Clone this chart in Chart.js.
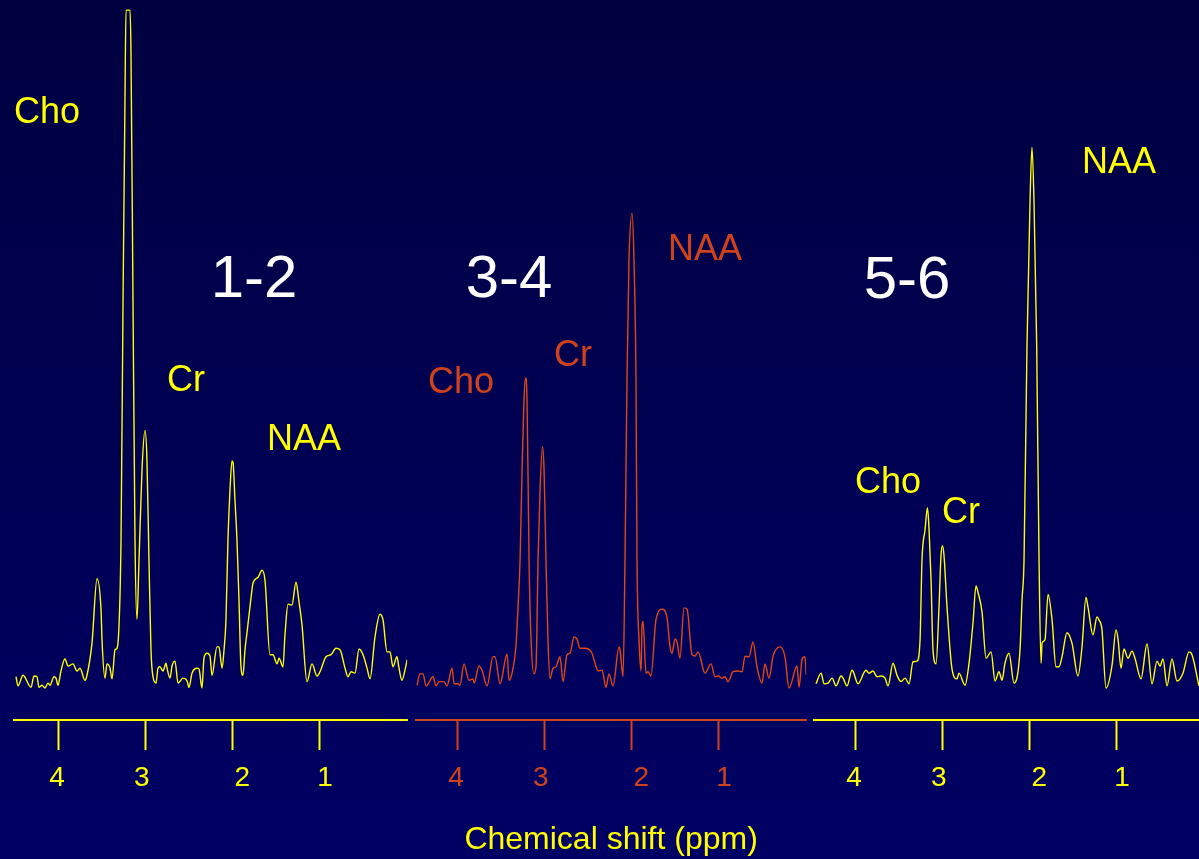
<!DOCTYPE html>
<html>
<head>
<meta charset="utf-8">
<title>MR spectra</title>
<script src="https://cdn.jsdelivr.net/npm/chart.js@4.4.1/dist/chart.umd.min.js"></script>
<style>
  html, body { margin: 0; padding: 0; width: 1199px; height: 859px; overflow: hidden; }
  body { position: relative; background: linear-gradient(#000040, #000064); }
  canvas { position: absolute; top: 0; }
</style>
</head>
<body>
<canvas id="p12" width="412" height="859" style="left:0px"></canvas>
<canvas id="p34" width="400" height="859" style="left:412px"></canvas>
<canvas id="p56" width="400" height="859" style="left:812px"></canvas>
<script>
// spectra: [chemical shift (ppm), signal]
const spectrum12 = [
  [4.481,6.1],[4.458,4.8],[4.401,6.3],[4.309,4.6],[4.275,6.2],[4.241,6.1],[4.218,4.6],[4.183,4.9],[4.149,4.5],[4.115,5.2],
  [4.092,4.9],[4.046,6.1],[4.023,5.9],[4.000,4.9],[3.966,6.9],[3.920,8.6],[3.885,7.6],[3.828,7.9],[3.782,6.9],[3.748,7.3],
  [3.691,5.6],[3.668,6.3],[3.611,10.8],[3.553,19.9],[3.507,15.5],[3.496,11.3],[3.462,5.9],[3.439,7.9],[3.404,7.3],[3.381,5.8],
  [3.347,9.9],[3.324,10.1],[3.301,13.4],[3.278,25.4],[3.255,59.2],[3.233,87.3],[3.221,100],[3.192,100],[3.175,100],[3.164,94.1],
  [3.141,59.2],[3.118,25.4],[3.095,14.2],[3.072,22.5],[3.038,35.2],[3.003,40.8],[2.981,36.6],[2.958,22.5],[2.935,9.9],[2.912,6.1],
  [2.877,5.2],[2.855,7.3],[2.832,7.5],[2.797,6.9],[2.763,8.0],[2.751,7.3],[2.717,5.9],[2.694,7.6],[2.660,8.3],[2.625,5.2],
  [2.568,5.9],[2.522,5.5],[2.499,4.6],[2.465,6.6],[2.408,7.3],[2.385,7.2],[2.351,4.5],[2.328,8.7],[2.293,9.4],[2.259,9.0],
  [2.236,6.3],[2.179,10.3],[2.156,10.3],[2.121,7.3],[2.098,9.9],[2.076,14.1],[2.053,25.4],[2.030,32.4],[2.007,36.5],[1.995,36.3],
  [1.973,31.0],[1.950,25.4],[1.927,16.9],[1.904,7.5],[1.881,6.3],[1.858,9.9],[1.835,12.3],[1.789,17.2],[1.766,19.3],[1.709,20.1],
  [1.663,21.1],[1.629,19.7],[1.572,9.2],[1.537,9.2],[1.491,7.9],[1.468,8.7],[1.423,7.5],[1.400,12.0],[1.365,16.3],[1.320,16.2],
  [1.274,19.4],[1.239,16.6],[1.205,13.4],[1.148,5.4],[1.090,7.9],[1.033,6.2],[0.999,6.8],[0.930,8.9],[0.873,9.2],[0.816,10.1],
  [0.770,9.9],[0.712,7.3],[0.678,6.1],[0.644,6.8],[0.598,6.6],[0.552,10.0],[0.506,9.2],[0.460,7.3],[0.426,5.8],[0.369,11.7],
  [0.312,14.9],[0.277,14.1],[0.231,9.6],[0.197,9.6],[0.163,7.5],[0.117,8.9],[0.094,7.3],[0.060,5.6],[0.014,7.7],[0.000,8.5]
];
const spectrum34 = [
  [4.458,4.9],[4.424,6.5],[4.389,6.5],[4.355,4.8],[4.275,6.1],[4.241,4.8],[4.206,5.4],[4.149,5.4],[4.115,4.8],[4.057,7.3],
  [4.034,5.1],[3.989,5.1],[3.966,4.9],[3.920,7.9],[3.863,5.6],[3.817,5.8],[3.805,5.2],[3.748,7.6],[3.714,7.0],[3.656,4.8],
  [3.588,8.9],[3.565,8.9],[3.507,5.1],[3.427,9.3],[3.404,5.6],[3.370,6.6],[3.324,10.6],[3.301,15.9],[3.278,22.5],[3.255,35.2],
  [3.233,45.1],[3.215,48.2],[3.198,45.1],[3.175,22.5],[3.152,11.3],[3.118,6.5],[3.095,7.5],[3.072,22.5],[3.049,32.4],[3.021,38.5],
  [3.003,35.2],[2.981,22.5],[2.958,11.3],[2.935,5.8],[2.900,7.3],[2.866,7.5],[2.820,8.9],[2.786,5.4],[2.740,9.2],[2.706,9.4],
  [2.660,11.7],[2.625,11.4],[2.591,10.1],[2.534,10.1],[2.454,9.4],[2.419,8.0],[2.385,6.9],[2.339,7.0],[2.293,4.6],[2.259,6.5],
  [2.213,4.8],[2.144,10.3],[2.133,9.9],[2.098,6.1],[2.076,22.5],[2.053,47.9],[2.030,64.8],[1.995,71.4],[1.973,64.8],[1.950,47.9],
  [1.938,22.5],[1.915,11.3],[1.892,6.9],[1.881,13.1],[1.869,13.9],[1.835,6.6],[1.812,6.8],[1.778,6.2],[1.721,14.1],[1.652,15.6],
  [1.595,14.5],[1.560,10.3],[1.537,9.4],[1.503,11.4],[1.480,11.0],[1.446,8.7],[1.400,15.8],[1.365,15.6],[1.308,9.2],[1.274,9.0],
  [1.239,9.6],[1.159,6.6],[1.090,7.9],[1.045,6.1],[1.010,6.2],[0.965,5.9],[0.930,6.1],[0.896,5.4],[0.838,6.8],[0.781,6.9],
  [0.735,6.8],[0.701,9.0],[0.655,8.9],[0.609,11.0],[0.564,7.5],[0.506,5.2],[0.472,7.9],[0.426,5.9],[0.380,9.0],[0.300,10.3],
  [0.243,8.9],[0.197,4.5],[0.105,7.6],[0.082,4.6],[0.048,8.5],[0.014,8.9],[0.000,6.3]
];
const spectrum56 = [
  [4.447,5.1],[4.389,6.6],[4.355,5.1],[4.309,5.2],[4.263,5.9],[4.218,4.8],[4.160,6.2],[4.137,5.9],[4.092,4.8],[4.034,7.0],
  [4.023,6.9],[3.966,5.1],[3.874,7.0],[3.840,6.6],[3.794,6.9],[3.748,6.1],[3.702,6.2],[3.656,5.9],[3.622,4.8],[3.565,8.0],
  [3.519,6.3],[3.473,5.4],[3.427,5.9],[3.381,5.1],[3.336,8.2],[3.290,8.3],[3.255,11.3],[3.233,22.5],[3.198,26.8],[3.170,29.9],
  [3.152,26.8],[3.129,19.7],[3.107,9.9],[3.072,7.9],[3.038,15.9],[3.015,23.2],[2.998,24.5],[2.981,23.2],[2.946,15.9],[2.889,7.2],
  [2.832,5.8],[2.809,6.6],[2.740,4.9],[2.694,8.0],[2.648,13.8],[2.614,18.9],[2.591,18.0],[2.545,15.2],[2.499,8.7],[2.442,9.6],
  [2.396,5.5],[2.351,6.8],[2.316,5.6],[2.282,8.0],[2.236,9.4],[2.179,5.2],[2.110,9.9],[2.087,16.9],[2.064,22.5],[2.030,52.8],
  [1.995,73.2],[1.973,80.7],[1.950,73.2],[1.919,52.8],[1.892,22.5],[1.869,8.0],[1.858,10.8],[1.824,11.3],[1.789,17.7],[1.743,14.1],
  [1.698,7.5],[1.663,7.5],[1.629,8.9],[1.572,12.3],[1.514,10.8],[1.446,6.2],[1.400,10.3],[1.354,17.3],[1.331,15.9],[1.274,12.0],
  [1.228,14.5],[1.205,14.1],[1.171,12.7],[1.125,4.5],[1.056,7.7],[1.010,12.7],[0.987,11.4],[0.953,7.3],[0.919,10.0],[0.873,8.7],
  [0.827,9.7],[0.793,8.7],[0.724,5.8],[0.655,10.7],[0.598,5.1],[0.541,8.3],[0.506,7.6],[0.472,8.6],[0.426,4.8],[0.369,8.6],
  [0.312,5.5],[0.243,6.6],[0.174,9.6],[0.140,9.2],[0.060,4.8]
];

const tickValues = [4, 3, 2, 1];
const tickLabels = ['4', '3', '2', '1'];
// labels on the slide sit a little off their tick marks
const tickLabelAt = [4.01, 3.04, 1.89, 0.94];

const FONT = "'Liberation Sans', Arial, Helvetica, sans-serif";
const YELLOW = '#ffff00';
const ORANGE = '#e04818';
const ORANGE_TEXT = '#d0421c';
const WHITE = '#ffffff';

// text drawn at data coordinates (ppm, signal)
const makeLabels = (items) => ({
  id: 'peakLabels',
  afterDatasetsDraw(chart) {
    const { ctx, scales: { x, y } } = chart;
    ctx.save();
    ctx.textAlign = 'center';
    ctx.textBaseline = 'middle';
    items.forEach((it) => {
      ctx.font = `${it.size}px ${FONT}`;
      ctx.fillStyle = it.color;
      ctx.fillText(it.text, x.getPixelForValue(it.ppm), y.getPixelForValue(it.level));
    });
    ctx.restore();
  },
});

function drawPanel(id, points, lineColor, textColor, xMax, padLeft, padRight, items, title) {
  new Chart(document.getElementById(id), {
    type: 'line',
    data: {
      datasets: [{
        data: points.map(([ppm, v]) => ({ x: ppm, y: v })),
        xAxisID: 'x',
        yAxisID: 'y',
        borderColor: lineColor,
        borderWidth: 1.4,
        pointRadius: 0,
        cubicInterpolationMode: 'monotone',
        fill: false,
      }],
    },
    options: {
      responsive: false,
      animation: false,
      events: [],
      layout: { padding: { left: padLeft, right: padRight, top: 3, bottom: 0 } },
      plugins: { legend: { display: false }, tooltip: { enabled: false } },
      scales: {
        x: {
          type: 'linear',
          position: 'bottom',
          reverse: true,
          min: 0,
          max: xMax,
          weight: 0,
          afterBuildTicks: (s) => { s.ticks = tickValues.map((v) => ({ value: v })); },
          afterFit: (s) => { s.height = 30; },
          ticks: { display: false },
          grid: { drawOnChartArea: false, drawTicks: true, tickLength: 30, tickWidth: 2, color: textColor },
          border: { display: true, color: textColor, width: 2 },
        },
        xl: {
          type: 'linear',
          position: 'bottom',
          reverse: true,
          min: 0,
          max: xMax,
          weight: 1,
          afterBuildTicks: (s) => { s.ticks = tickLabelAt.map((v) => ({ value: v })); },
          afterFit: (s) => { s.height = 109; },
          ticks: {
            color: textColor,
            font: { family: FONT, size: 28, lineHeight: 1 },
            padding: 6,
            maxRotation: 0,
            autoSkip: false,
            callback: (v, i) => tickLabels[i],
          },
          grid: { display: false },
          border: { display: false },
          title: {
            display: !!title,
            text: title || '',
            color: YELLOW,
            font: { family: FONT, size: 32, lineHeight: 1 },
            padding: { top: 0, bottom: 3 },
          },
        },
        y: { display: false, min: 0, max: 101 },
      },
    },
    plugins: [makeLabels(items)],
  });
}

drawPanel('p12', spectrum12, YELLOW, YELLOW, 4.5, 14.35, 4.8, [
  { text: 'Cho', ppm: 4.126, level: 85.5, color: YELLOW, size: 36 },
  { text: 'Cr', ppm: 2.534, level: 47.8, color: YELLOW, size: 36 },
  { text: 'NAA', ppm: 1.182, level: 39.5, color: YELLOW, size: 36 },
  { text: '1-2', ppm: 1.755, level: 61.9, color: WHITE, size: 60 },
]);

drawPanel('p34', spectrum34, ORANGE, ORANGE_TEXT, 4.47, 4, 5.8, [
  { text: '3-4', ppm: 3.404, level: 61.9, color: WHITE, size: 60 },
  { text: 'Cho', ppm: 3.954, level: 47.5, color: ORANGE_TEXT, size: 36 },
  { text: 'Cr', ppm: 2.671, level: 51.3, color: ORANGE_TEXT, size: 36 },
  { text: 'NAA', ppm: 1.159, level: 66.2, color: ORANGE_TEXT, size: 36 },
], 'Chemical shift (ppm)');

drawPanel('p56', spectrum56, YELLOW, YELLOW, 4.47, 2, 7.8, [
  { text: '5-6', ppm: 3.404, level: 61.8, color: WHITE, size: 60 },
  { text: 'Cho', ppm: 3.622, level: 33.4, color: YELLOW, size: 36 },
  { text: 'Cr', ppm: 2.786, level: 29.2, color: YELLOW, size: 36 },
  { text: 'NAA', ppm: 0.976, level: 78.5, color: YELLOW, size: 36 },
]);
</script>
</body>
</html>
